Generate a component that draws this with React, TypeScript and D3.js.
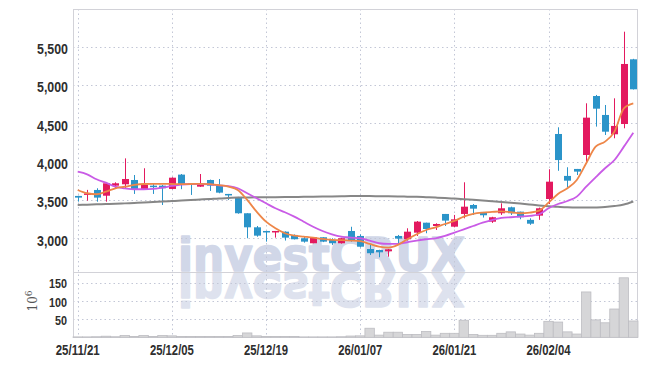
import React, { useEffect, useRef } from "react";
import * as d3 from "d3";

// trading days, 25/11/21 .. 26/02/20
const dates = [
  "25/11/21", "25/11/24", "25/11/25", "25/11/26", "25/11/27", "25/11/28",
  "25/12/01", "25/12/02", "25/12/03", "25/12/04", "25/12/05",
  "25/12/08", "25/12/09", "25/12/10", "25/12/11", "25/12/12",
  "25/12/15", "25/12/16", "25/12/17", "25/12/18", "25/12/19",
  "25/12/22", "25/12/23", "25/12/24", "25/12/26", "25/12/29", "25/12/30",
  "26/01/02", "26/01/05", "26/01/06", "26/01/07",
  "26/01/08", "26/01/09", "26/01/12", "26/01/13", "26/01/14", "26/01/15", "26/01/16",
  "26/01/19", "26/01/20", "26/01/21",
  "26/01/22", "26/01/23", "26/01/26", "26/01/27", "26/01/28", "26/01/29", "26/01/30",
  "26/02/02", "26/02/03", "26/02/04",
  "26/02/05", "26/02/06", "26/02/09", "26/02/10", "26/02/11", "26/02/12", "26/02/13",
  "26/02/19", "26/02/20",
];
const dateTicks = ["25/11/21", "25/12/05", "25/12/19", "26/01/07", "26/01/21", "26/02/04"];

const open = [
  3552, 3575, 3630, 3555, 3686, 3704, 3760, 3634, 3686, 3686,
  3643, 3830, 3717, 3673, 3760, 3695, 3578, 3535, 3326, 3143,
  3095, 3078, 3086, 3043, 3000, 2935, 3013, 2978, 2935, 3095,
  3030, 2860, 2847, 2830, 3030, 2987, 3073, 3203, 3160, 3317,
  3151, 3317, 3434, 3343, 3216, 3326, 3404, 3347, 3240, 3295,
  3512, 4360, 3813, 3904, 4086, 4855, 4608, 4356, 4490, 5334,
];
const high = [
  3555, 3631, 3652, 3730, 3730, 4042, 3825, 3913, 3717, 3695,
  3795, 3838, 3720, 3838, 3765, 3773, 3578, 3540, 3326, 3160,
  3095, 3095, 3090, 3050, 3020, 3013, 3013, 3000, 3005, 3150,
  3050, 2912, 2850, 2860, 3043, 3130, 3225, 3203, 3195, 3317,
  3304, 3730, 3447, 3343, 3280, 3456, 3412, 3347, 3260, 3400,
  3900, 4447, 3926, 3904, 4760, 4869, 4738, 4825, 5694, 5340,
];
const low = [
  3478, 3490, 3477, 3477, 3643, 3643, 3578, 3630, 3578, 3434,
  3640, 3640, 3565, 3670, 3617, 3587, 3500, 3320, 3000, 3020,
  2956, 3008, 2970, 2985, 2943, 2935, 2950, 2913, 2930, 2956,
  2880, 2782, 2752, 2760, 2913, 2970, 3030, 3065, 3108, 3160,
  3143, 3260, 3304, 3270, 3200, 3304, 3304, 3248, 3175, 3240,
  3447, 3880, 3665, 3825, 3978, 4456, 4347, 4304, 4434, 4940,
];
const close = [
  3530, 3585, 3530, 3717, 3717, 3773, 3630, 3695, 3673, 3652,
  3790, 3708, 3704, 3704, 3686, 3595, 3560, 3326, 3143, 3034,
  3078, 3095, 3008, 2987, 2956, 3013, 2956, 2935, 3000, 2970,
  2890, 2805, 2817, 2856, 2995, 3086, 3217, 3121, 3186, 3230,
  3247, 3412, 3386, 3300, 3274, 3391, 3326, 3274, 3190, 3391,
  3738, 4020, 3751, 3869, 4573, 4690, 4390, 4465, 5273, 4943,
];
// volume, millions of shares
const volume = [
  1, 1, 1.5, 3, 1.5, 5, 2, 5, 2, 5,
  4, 2, 2, 2, 2, 2, 2, 5, 12, 4,
  2, 2, 2, 2, 1, 1, 1, 1, 1.5, 3.5,
  4, 25, 6, 14, 14, 8, 8, 16, 6, 11,
  11, 47, 8, 5.5, 5.5, 11, 15, 9, 6, 11,
  44, 42, 15, 9, 125, 48, 40, 78, 164, 45,
];
const maShort = [
  3630, 3587, 3574, 3608, 3652, 3673, 3695, 3708, 3710, 3710,
  3708, 3706, 3708, 3710, 3705, 3692, 3673, 3630, 3500, 3347,
  3216, 3130, 3065, 3034, 3021, 3008, 2991, 2978, 2975, 2970,
  2962, 2926, 2891, 2878, 2913, 2987, 3052, 3108, 3143, 3186,
  3226, 3282, 3317, 3334, 3343, 3350, 3339, 3326, 3334, 3360,
  3464, 3578, 3652, 3760, 3978, 4195, 4260, 4390, 4695, 4760,
];
const maMid = [
  3868, 3834, 3769, 3725, 3673, 3652, 3639, 3639, 3643, 3660,
  3682, 3700, 3708, 3708, 3704, 3690, 3680, 3652, 3587, 3522,
  3456, 3391, 3339, 3282, 3216, 3151, 3095, 3052, 3021, 3008,
  3000, 2969, 2935, 2926, 2926, 2948, 2969, 2987, 3000, 3030,
  3073, 3117, 3160, 3203, 3238, 3265, 3274, 3282, 3291, 3313,
  3391, 3447, 3486, 3543, 3673, 3795, 3913, 4021, 4195, 4377,
];
const maLong = [
  3434, 3438, 3442, 3446, 3450, 3455, 3460, 3465, 3472, 3478,
  3485, 3492, 3498, 3505, 3512, 3520, 3525, 3530, 3532, 3534,
  3535, 3536, 3537, 3538, 3540, 3542, 3544, 3546, 3548, 3550,
  3550, 3550, 3549, 3548, 3546, 3543, 3540, 3535, 3530, 3524,
  3517, 3510, 3502, 3493, 3484, 3474, 3463, 3452, 3440, 3428,
  3418, 3410, 3403, 3400, 3400, 3402, 3407, 3420, 3440, 3480,
];
const priceTicks = [3000, 3500, 4000, 4500, 5000, 5500];
const volumeTicks = [50, 100, 150];

const UP = "#e3195f";
const DOWN = "#2b94c9";
const FONT = "'Liberation Sans', Arial, sans-serif";

const CandleChart = () => {
  const svgRef = useRef<SVGSVGElement>(null);

  useEffect(() => {
    const width = 647;
    const height = 366;
    const left = 73, right = 638, top = 9, split = 272, bottom = 337.3;

    const svg = d3.select(svgRef.current)
      .attr("width", width)
      .attr("height", height);
    svg.selectAll("*").remove();

    const x = d3.scaleBand<string>().domain(dates).range([left, right]).padding(0);
    const bw = x.bandwidth();
    const cx = (i: number) => (x(dates[i]) as number) + bw / 2;
    const y = d3.scaleLinear().domain([2560, 5990]).range([split, top]);
    const yv = d3.scaleLinear().domain([0, 180]).range([bottom, split]);

    svg.append("defs").append("clipPath")
      .attr("id", "price-clip")
      .append("rect")
      .attr("x", left).attr("y", top)
      .attr("width", right - left).attr("height", split - top);

    // watermark + its reflection
    const wm = svg.append("g")
      .attr("fill", "#d1d7e8")
      .attr("stroke", "#d1d7e8")
      .attr("stroke-width", 1.6)
      .attr("stroke-linejoin", "round")
      .style("font-family", "'DejaVu Sans', sans-serif")
      .style("font-weight", "bold")
      .style("font-size", "47px");
    wm.append("text")
      .attr("id", "wm")
      .attr("x", 178).attr("y", split - 1)
      .attr("textLength", 287)
      .attr("lengthAdjust", "spacingAndGlyphs")
      .text("investCRUX");
    wm.append("use")
      .attr("href", "#wm")
      .attr("transform", `translate(0,${2 * split}) scale(1,-1)`)
      .attr("opacity", 0.7);

    // grid
    const grid = svg.append("g")
      .attr("stroke", "#c3c7d6")
      .attr("stroke-width", 1)
      .attr("stroke-dasharray", "1.5,3");
    priceTicks.forEach(t => {
      grid.append("line")
        .attr("x1", left).attr("x2", right)
        .attr("y1", Math.round(y(t)) + 0.5).attr("y2", Math.round(y(t)) + 0.5);
    });
    volumeTicks.forEach(t => {
      grid.append("line")
        .attr("x1", left).attr("x2", right)
        .attr("y1", Math.round(yv(t)) + 0.5).attr("y2", Math.round(yv(t)) + 0.5);
    });
    dateTicks.forEach(d => {
      const xx = Math.round(cx(dates.indexOf(d))) + 0.5;
      grid.append("line")
        .attr("x1", xx).attr("x2", xx)
        .attr("y1", top).attr("y2", bottom);
    });

    // frame
    const frame = svg.append("g").attr("stroke", "#d2d2d8").attr("fill", "none");
    frame.append("line").attr("x1", left).attr("x2", right).attr("y1", top + 0.5).attr("y2", top + 0.5);
    frame.append("line").attr("x1", left).attr("x2", right).attr("y1", split + 0.5).attr("y2", split + 0.5);
    frame.append("line").attr("x1", left).attr("x2", right).attr("y1", bottom).attr("y2", bottom);
    frame.append("line").attr("x1", left + 0.5).attr("x2", left + 0.5).attr("y1", top).attr("y2", bottom);
    frame.append("line").attr("x1", right - 0.5).attr("x2", right - 0.5).attr("y1", top).attr("y2", bottom);

    // volume bars
    svg.append("g")
      .selectAll("rect")
      .data(volume)
      .join("rect")
      .attr("x", (_, i) => x(dates[i]) as number)
      .attr("width", bw)
      .attr("y", d => yv(d))
      .attr("height", d => bottom - yv(d))
      .attr("fill", "#d6d6d8")
      .attr("stroke", "#bdbdc2")
      .attr("stroke-width", 0.8);

    // candles
    const candles = svg.append("g").attr("clip-path", "url(#price-clip)");
    dates.forEach((_, i) => {
      const color = close[i] >= open[i] ? UP : DOWN;
      const xx = Math.round(cx(i)) + 0.5;
      candles.append("line")
        .attr("x1", xx).attr("x2", xx)
        .attr("y1", y(high[i])).attr("y2", y(low[i]))
        .attr("stroke", color)
        .attr("stroke-width", 1);
      const yt = y(Math.max(open[i], close[i]));
      const yb = y(Math.min(open[i], close[i]));
      candles.append("rect")
        .attr("x", xx - 3.5)
        .attr("width", 7)
        .attr("y", yt)
        .attr("height", Math.max(1.5, yb - yt))
        .attr("fill", color);
    });

    // moving averages
    const line = d3.line<number>()
      .x((_, i) => cx(i))
      .y(d => y(d))
      .curve(d3.curveMonotoneX);
    const lines = svg.append("g").attr("clip-path", "url(#price-clip)").attr("fill", "none");
    lines.append("path").datum(maLong).attr("d", line).attr("stroke", "#878787").attr("stroke-width", 2);
    lines.append("path").datum(maMid).attr("d", line).attr("stroke", "#c95be6").attr("stroke-width", 1.8);
    lines.append("path").datum(maShort).attr("d", line).attr("stroke", "#ee8648").attr("stroke-width", 1.8);

    // axis labels (squeezed to look condensed)
    const labels = svg.append("g")
      .style("font-family", FONT)
      .style("font-weight", "bold")
      .attr("fill", "#2e2e2e");
    priceTicks.forEach(t => {
      labels.append("text")
        .attr("x", 68).attr("y", y(t) + 7.5)
        .attr("text-anchor", "end")
        .attr("textLength", 31)
        .attr("lengthAdjust", "spacingAndGlyphs")
        .style("font-size", "14px")
        .text(d3.format(",")(t));
    });
    volumeTicks.forEach(t => {
      const s = String(t);
      labels.append("text")
        .attr("x", 67).attr("y", yv(t) + 5.5)
        .attr("text-anchor", "end")
        .attr("textLength", s.length * 6)
        .attr("lengthAdjust", "spacingAndGlyphs")
        .style("font-size", "12px")
        .text(s);
    });
    dateTicks.forEach(d => {
      labels.append("text")
        .attr("x", cx(dates.indexOf(d)))
        .attr("y", 354.5)
        .attr("text-anchor", "middle")
        .attr("textLength", 44)
        .attr("lengthAdjust", "spacingAndGlyphs")
        .style("font-size", "15px")
        .text(d);
    });

    const unit = svg.append("text")
      .attr("transform", "translate(37,301) rotate(-90)")
      .attr("text-anchor", "middle")
      .attr("fill", "#555")
      .style("font-family", "'DejaVu Serif', serif")
      .style("font-size", "12px");
    unit.append("tspan").text("10");
    unit.append("tspan").attr("dy", -5).style("font-size", "9px").text("6");
  }, []);

  return <svg ref={svgRef} style={{ position: "absolute", left: 0, top: 0 }}></svg>;
};

export default function App() {
  return <CandleChart />;
}
